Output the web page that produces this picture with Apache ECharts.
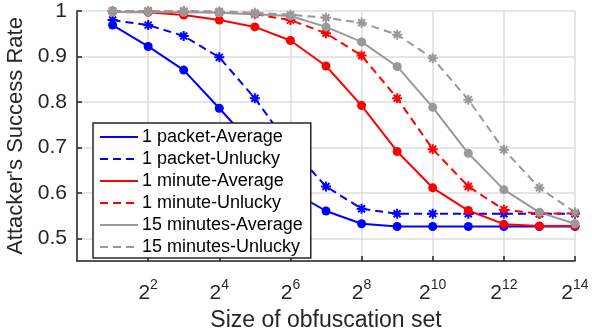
<!DOCTYPE html>
<html>
<head>
<meta charset="utf-8">
<script src="https://cdn.jsdelivr.net/npm/echarts@6/dist/echarts.min.js"></script>
<style>
	html, body { margin: 0; padding: 0; background: #fff; }
	#chart { width: 592px; height: 335px; }
</style>
</head>
<body>
<div id="chart"></div>
<script>
	// x: log2 of the obfuscation set size
	const setSizeExp = [1, 2, 3, 4, 5, 6, 7, 8, 9, 10, 11, 12, 13, 14];
	const xTickExp = [2, 4, 6, 8, 10, 12, 14];

	const packetAvg = [0.969, 0.922, 0.870, 0.786, 0.700, 0.605, 0.560, 0.532, 0.526, 0.526, 0.526, 0.526, 0.526, 0.526];
	const packetUnlucky = [0.980, 0.969, 0.945, 0.898, 0.808, 0.700, 0.614, 0.565, 0.554, 0.554, 0.554, 0.554, 0.554, 0.554];
	const minuteAvg = [0.998, 0.997, 0.991, 0.980, 0.965, 0.935, 0.879, 0.792, 0.691, 0.611, 0.561, 0.531, 0.527, 0.527];
	const minuteUnlucky = [1.0, 1.0, 0.999, 0.997, 0.993, 0.980, 0.951, 0.902, 0.808, 0.696, 0.614, 0.563, 0.554, 0.555];
	const min15Avg = [0.998, 0.998, 0.997, 0.996, 0.993, 0.989, 0.965, 0.932, 0.878, 0.788, 0.687, 0.607, 0.557, 0.532];
	const min15Unlucky = [1.0, 1.0, 1.0, 0.999, 0.996, 0.992, 0.985, 0.974, 0.948, 0.896, 0.805, 0.695, 0.611, 0.557];

	const seriesNames = ['1 packet-Average', '1 packet-Unlucky', '1 minute-Average', '1 minute-Unlucky', '15 minutes-Average', '15 minutes-Unlucky'];

	const font = 'Liberation Sans, Arial, Helvetica, sans-serif';
	const axisColor = '#262626';
	const gridColor = '#dcdcdc';
	const asterisk = 'path://M5,0L5,10M0,5L10,5M1.5,1.5L8.5,8.5M1.5,8.5L8.5,1.5';

	function pairs(vals) {
		return setSizeExp.map(function(x, i) {
			return [x, vals[i]];
		});
	}

	function makeSeries(name, vals, color, unlucky) {
		return {
			name: name,
			type: 'line',
			data: pairs(vals),
			clip: false,
			symbol: unlucky ? asterisk : 'circle',
			symbolSize: unlucky ? 10 : 9,
			lineStyle: {
				color: color,
				width: 2,
				type: unlucky ? [8, 5] : 'solid'
			},
			itemStyle: {
				color: unlucky ? 'none' : color,
				borderColor: color,
				borderWidth: unlucky ? 2 : 0
			},
			emphasis: { disabled: true },
			animation: false
		};
	}

	const chart = echarts.init(document.getElementById('chart'));

	const option = {
		animation: false,
		grid: {
			left: 77,
			right: 17,
			top: 11,
			bottom: 74,
			containLabel: false,
			outerBoundsMode: 'none'
		},
		legend: {
			orient: 'vertical',
			left: 93,
			top: 123,
			z: 10,
			padding: [5, 8, 2, 6],
			itemWidth: 38,
			itemHeight: 14,
			itemGap: 4,
			backgroundColor: '#fff',
			borderColor: axisColor,
			borderWidth: 1.5,
			borderRadius: 0,
			itemStyle: { opacity: 0 },
			textStyle: {
				fontFamily: font,
				fontSize: 18,
				color: '#000',
				padding: [0, 0, 0, -1]
			},
			data: seriesNames
		},
		xAxis: {
			type: 'value',
			min: 0,
			max: 14,
			interval: 2,
			name: 'Size of obfuscation set',
			nameLocation: 'middle',
			nameGap: 46,
			nameTextStyle: {
				fontFamily: font,
				fontSize: 23,
				color: axisColor
			},
			axisLine: { lineStyle: { color: axisColor, width: 1.5 } },
			axisTick: { inside: true, length: 5, lineStyle: { color: axisColor, width: 1.5 } },
			splitLine: { show: true, lineStyle: { color: gridColor, width: 1.5 } },
			axisLabel: {
				margin: 17,
				showMinLabel: false,
				color: axisColor,
				fontFamily: font,
				formatter: function(v) {
					if (xTickExp.indexOf(v) < 0) return '';
					return '{b|2}{s|' + v + '}';
				},
				rich: {
					b: { fontFamily: font, fontSize: 21, lineHeight: 26, verticalAlign: 'bottom', color: axisColor },
					s: { fontFamily: font, fontSize: 14, lineHeight: 14, verticalAlign: 'top', color: axisColor }
				}
			}
		},
		yAxis: {
			type: 'value',
			min: 0.45,
			max: 1,
			splitNumber: 5,
			name: "Attacker's Success Rate",
			nameLocation: 'middle',
			nameGap: 45,
			nameTextStyle: {
				fontFamily: font,
				fontSize: 22,
				color: axisColor
			},
			axisLine: { show: true, lineStyle: { color: axisColor, width: 1.5 } },
			axisTick: { show: true, inside: true, length: 5, lineStyle: { color: axisColor, width: 1.5 } },
			splitLine: { show: true, lineStyle: { color: gridColor, width: 1.5 } },
			axisLabel: {
				margin: 10,
				showMinLabel: false,
				color: axisColor,
				fontFamily: font,
				fontSize: 21,
				formatter: function(v) {
					return v === 1 ? '1' : String(Math.round(v * 10) / 10);
				}
			}
		},
		series: [
			makeSeries(seriesNames[0], packetAvg, '#0000ff', false),
			makeSeries(seriesNames[1], packetUnlucky, '#0000ff', true),
			makeSeries(seriesNames[2], minuteAvg, '#ff0000', false),
			makeSeries(seriesNames[3], minuteUnlucky, '#ff0000', true),
			makeSeries(seriesNames[4], min15Avg, '#999999', false),
			makeSeries(seriesNames[5], min15Unlucky, '#999999', true)
		]
	};

	chart.setOption(option);
</script>
</body>
</html>
